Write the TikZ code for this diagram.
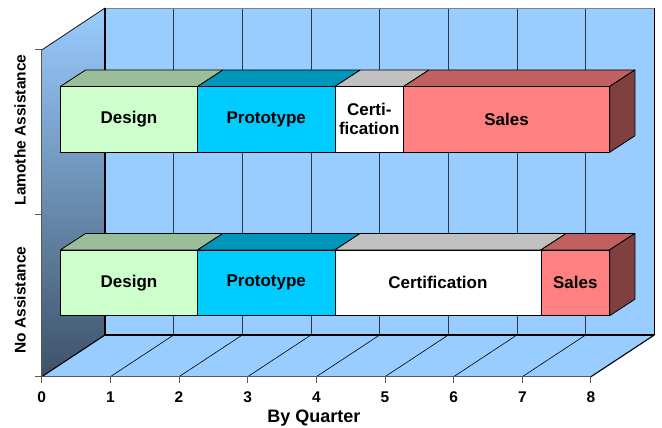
\documentclass[tikz,border=0pt]{standalone}
\usepackage{fontspec}
\setmainfont{Liberation Sans}
\usetikzlibrary{calc}
\definecolor{wallblue}{RGB}{153,204,255}
\definecolor{designF}{RGB}{204,255,204}
\definecolor{designT}{RGB}{153,190,153}
\definecolor{protoF}{RGB}{0,204,255}
\definecolor{protoT}{RGB}{0,150,185}
\definecolor{certF}{RGB}{255,255,255}
\definecolor{certT}{RGB}{192,192,192}
\definecolor{salesF}{RGB}{255,128,128}
\definecolor{salesT}{RGB}{192,96,96}
\definecolor{salesS}{RGB}{128,64,64}
\definecolor{gridc}{RGB}{45,55,70}
\definecolor{wallmid}{RGB}{125,165,205}
\definecolor{walldark}{RGB}{62,82,104}
\tikzset{
  face/.style={draw=black, line width=0.8pt, inner sep=0pt, outer sep=0pt,
    minimum height=65.8pt, align=center, font=\fontsize{17}{19}\selectfont\bfseries},
  faceedge/.style={draw=black, line width=0.8pt, line join=round},
  gridline/.style={draw=gridc, line width=0.8pt},
  floorline/.style={draw=black, line width=0.6pt},
  edgeline/.style={draw=black, line width=1.1pt},
  axisline/.style={draw=gray!70!black, line width=1pt},
  ticklab/.style={font=\fontsize{15.5}{17}\selectfont\bfseries, anchor=base, inner sep=0pt},
  axlab/.style={font=\fontsize{15.5}{17}\selectfont\bfseries}
}
\newcommand\barseg[7]{%
  \node[face, fill=#5, minimum width={(#3-#2)*1pt}] (#1) at ({(#2+#3)/2}, #4) {#7};
  \draw[faceedge, fill=#6] (#1.north west) -- ++(25.3,-16.5) -- ($(#1.north east)+(25.3,-16.5)$) -- (#1.north east) -- cycle;
}
\begin{document}
\begin{tikzpicture}[x=1pt, y=-1pt]
\useasboundingbox[fill=white] (0,0) rectangle (662,428);
% back wall
\fill[wallblue] (105,8) rectangle (654.3,335);
\foreach \k in {1,...,7} \draw[gridline] ({105+68.66*\k},8) -- ({105+68.66*\k},335);
\draw[gray, line width=0.8pt] (105,8) -- (654.3,8);
% left wall
\shade[top color=wallblue, middle color=wallmid, bottom color=walldark]
  (41.7,50) -- (105,8) -- (105,335) -- (41.7,376.7) -- cycle;
\draw[black, line width=0.7pt] (41.7,50) -- (105,8);
% floor
\fill[wallblue] (41.7,376.7) -- (591,376.7) -- (654.3,335) -- (105,335) -- cycle;
\foreach \k in {1,...,7} \draw[floorline] ({41.7+68.66*\k},376.7) -- ({105+68.66*\k},335);
\draw[edgeline] (105,335) -- (654.3,335);
\draw[edgeline] (105,8) -- (105,335);
\draw[edgeline] (41.7,376.7) -- (105,335);
\draw[edgeline] (591,376.7) -- (654.3,335);
\draw[black, line width=1.5pt] (654.3,8) -- (654.3,335);
% axes
\draw[axisline] (41.7,50) -- (41.7,376.7);
\draw[axisline] (41.7,376.7) -- (591,376.7);
\foreach \y in {50,214,376.7} \draw[axisline] (35,\y) -- (41.7,\y);
\foreach \k in {0,...,8} {
  \draw[axisline] ({41.7+68.66*\k},376.7) -- ({41.7+68.66*\k},382.5);
  \node[ticklab] (t\k) at ({41.7+68.66*\k},402.5) {\k};
}
\node[font=\fontsize{18}{20}\selectfont\bfseries] (xt) at (314,418) {By Quarter};
\node[axlab, rotate=90] (yl1) at (20,130) {Lamothe Assistance};
\node[axlab, rotate=90] (yl2) at (20,300) {No Assistance};
% upper bar (Lamothe Assistance)
\barseg{ud}{60.3}{197.6}{119.4}{designF}{designT}{Design}
\barseg{up}{197.6}{334.9}{119.4}{protoF}{protoT}{Prototype}
\barseg{uc}{334.9}{403.6}{119.4}{certF}{certT}{Certi-\\fication}
\barseg{us}{403.6}{609.6}{119.4}{salesF}{salesT}{Sales}
\draw[faceedge, fill=salesS] (us.north east) -- ++(25.3,-16.5) -- ++(0,65.8) -- (us.south east) -- cycle;
% lower bar (No Assistance)
\barseg{ld}{60.3}{197.6}{282.85}{designF}{designT}{Design}
\barseg{lp}{197.6}{334.9}{282.85}{protoF}{protoT}{Prototype}
\barseg{lc}{334.9}{540.9}{282.85}{certF}{certT}{Certification}
\barseg{ls}{540.9}{609.6}{282.85}{salesF}{salesT}{Sales}
\draw[faceedge, fill=salesS] (ls.north east) -- ++(25.3,-16.5) -- ++(0,65.8) -- (ls.south east) -- cycle;
\end{tikzpicture}
\end{document}
